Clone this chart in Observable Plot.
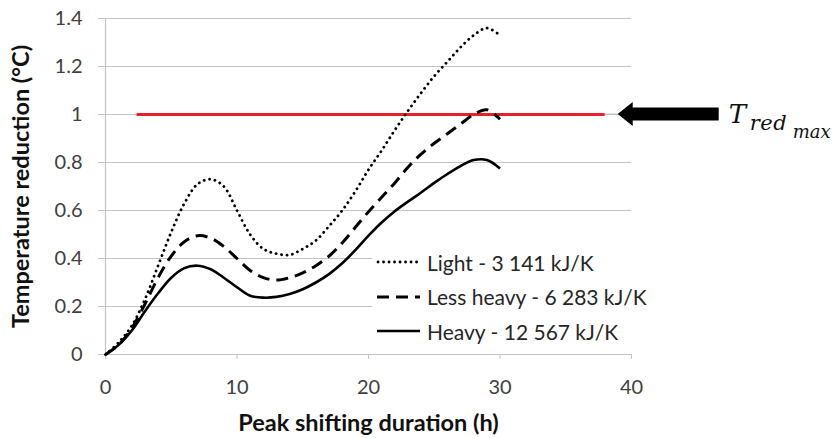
<!DOCTYPE html>
<html><head><meta charset="utf-8">
<script src="https://cdn.jsdelivr.net/npm/d3@7"></script>
<script src="https://cdn.jsdelivr.net/npm/@observablehq/plot@0.6"></script>
<style>
body{margin:0;background:#fff;}
#wrap{position:relative;width:839px;height:438px;font-family:Lato,sans-serif;overflow:hidden;}
#wrap svg.plot{position:absolute;left:0;top:0;}
g[aria-label="x-axis label"] text, g[aria-label="y-axis label"] text{font-weight:bold;fill:#111;font-size:23.5px;}
.legend{position:absolute;background:#fff;font-family:Lato,sans-serif;font-size:21px;color:#262626;}
.legend .row{position:absolute;left:0;height:20px;display:flex;align-items:center;white-space:nowrap;}
.legend .row svg{margin-right:7px;}
</style></head><body><div id="wrap"></div>
<script>
// ---- data ----
const hours = [0,1,2,3,4,5,6,7,8,9,10,11,12,13,14,15,16,17,18,19,20,21,22,23,24,25,26,27,28,29,30];
const lightValues = [0,0.05,0.12,0.23,0.37,0.51,0.63,0.71,0.73,0.70,0.60,0.50,0.44,0.42,0.415,0.44,0.475,0.535,0.60,0.68,0.77,0.85,0.935,1.015,1.09,1.16,1.22,1.28,1.33,1.36,1.33];
const lessHeavyValues = [0,0.04,0.11,0.21,0.32,0.41,0.47,0.495,0.485,0.45,0.40,0.35,0.32,0.31,0.32,0.34,0.37,0.41,0.465,0.53,0.595,0.655,0.715,0.78,0.835,0.88,0.92,0.96,1.0,1.02,0.98];
const heavyValues = [0,0.04,0.10,0.18,0.255,0.32,0.36,0.37,0.355,0.32,0.28,0.245,0.237,0.24,0.252,0.272,0.30,0.335,0.38,0.435,0.495,0.55,0.597,0.637,0.675,0.715,0.752,0.785,0.81,0.81,0.775];
const seriesNames = ["Light - 3 141 kJ/K","Less heavy - 6 283 kJ/K","Heavy - 12 567 kJ/K"];
const xTicks = [0,10,20,30,40];
const yTicks = [0,0.2,0.4,0.6,0.8,1,1.2,1.4];
const xDomain = [0,40];
const yDomain = [0,1.4];
const threshold = 1;
const thresholdStart = 2.4;
const thresholdEnd = 38;
const xLabel = "Peak shifting duration (h)";
const yLabel = "Temperature reduction (°C)";

// ---- styles ----
const styles = [
  {dash:"0.1,5.4", cap:"round", width:2.8},
  {dash:"12,7", cap:"butt", width:3},
  {dash:null, cap:"butt", width:2.6}
];
const valueArrays = [lightValues, lessHeavyValues, heavyValues];
const rows = [];
valueArrays.forEach((vals,i)=>vals.forEach((v,j)=>rows.push({series:seriesNames[i], x:hours[j], y:v})));

const grid = "#c3c3c3";
const chart = Plot.plot({
  width:839, height:438,
  marginLeft:105, marginRight:208, marginTop:18, marginBottom:84,
  style:{fontFamily:"Lato, sans-serif", fontSize:"20px", background:"#fff"},
  x:{domain:xDomain},
  y:{domain:yDomain},
  marks:[
    Plot.ruleY(yTicks.filter(d=>d>0), {x1:xDomain[0], x2:xDomain[1], stroke:grid, strokeWidth:1.2}),
    Plot.ruleX([xDomain[0]], {y1:yDomain[0], y2:yDomain[1], stroke:grid, strokeWidth:1.2}),
    Plot.ruleY([0], {x1:xDomain[0], x2:xDomain[1], stroke:grid, strokeWidth:1.2}),
    Plot.axisY({ticks:yTicks, tickSize:7, tickPadding:16, stroke:grid, fill:"#404040",
      tickFormat:d=>String(d), label:yLabel, labelAnchor:"center", labelArrow:"none", labelOffset:93}),
    Plot.axisX({ticks:xTicks, tickSize:5, tickPadding:20, stroke:grid, fill:"#404040",
      tickFormat:d=>String(d), label:xLabel, labelAnchor:"center", labelArrow:"none", labelOffset:76}),
    Plot.ruleY([threshold], {x1:thresholdStart, x2:thresholdEnd, stroke:"#e8202a", strokeWidth:3}),
    ...seriesNames.map((name,i)=>Plot.line(rows.filter(r=>r.series===name), {
      x:"x", y:"y", curve:"catmull-rom", stroke:"#000",
      strokeWidth:styles[i].width, strokeDasharray:styles[i].dash, strokeLinecap:styles[i].cap
    }))
  ]
});
const wrap = document.getElementById("wrap");
wrap.appendChild(chart);

const xs = chart.scale("x"), ys = chart.scale("y");
const yT = ys.apply(threshold);
const xEnd = xs.apply(thresholdEnd);

// ---- annotation: arrow + T_red_max ----
const ns = "http://www.w3.org/2000/svg";
const ov = document.createElementNS(ns,"svg");
ov.setAttribute("width",839); ov.setAttribute("height",438);
ov.style.position="absolute"; ov.style.left="0"; ov.style.top="0";
const tip = xEnd + 13, headBack = tip + 15, tail = tip + 101;
ov.innerHTML = `
<line x1="${xEnd}" y1="${yT}" x2="${tip}" y2="${yT}" stroke="#a9c7d9" stroke-width="1"/>
<polygon points="${tip},${yT} ${headBack},${yT-12} ${headBack},${yT-6.5} ${tail},${yT-6.5} ${tail},${yT+6.5} ${headBack},${yT+6.5} ${headBack},${yT+12}" fill="#000"/>
<text font-family="DejaVu Serif" font-style="italic" fill="#111">
  <tspan x="${tail+10}" y="${yT+9}" font-size="26">T</tspan><tspan x="${tail+31}" y="${yT+16}" font-size="21" letter-spacing="0.5">red</tspan><tspan x="${tail+74}" y="${yT+24}" font-size="18">max</tspan>
</text>`;
wrap.appendChild(ov);

// ---- legend ----
const leg = document.createElement("div");
leg.className="legend";
Object.assign(leg.style,{left:"372px", top:"243px", width:"259px", height:"104px"});
seriesNames.forEach((name,i)=>{
  const r = document.createElement("div");
  r.className="row";
  r.style.top = (9 + i*34.5) + "px";
  const s = styles[i];
  r.innerHTML = `<svg width="48" height="20"><line x1="${s.cap==='round'?6:5}" y1="10" x2="48" y2="10" stroke="#000" stroke-width="${s.width}" ${s.dash?`stroke-dasharray="${s.dash}"`:""} stroke-linecap="${s.cap}"/></svg><span>${name}</span>`;
  leg.appendChild(r);
});
wrap.appendChild(leg);
</script></body></html>
